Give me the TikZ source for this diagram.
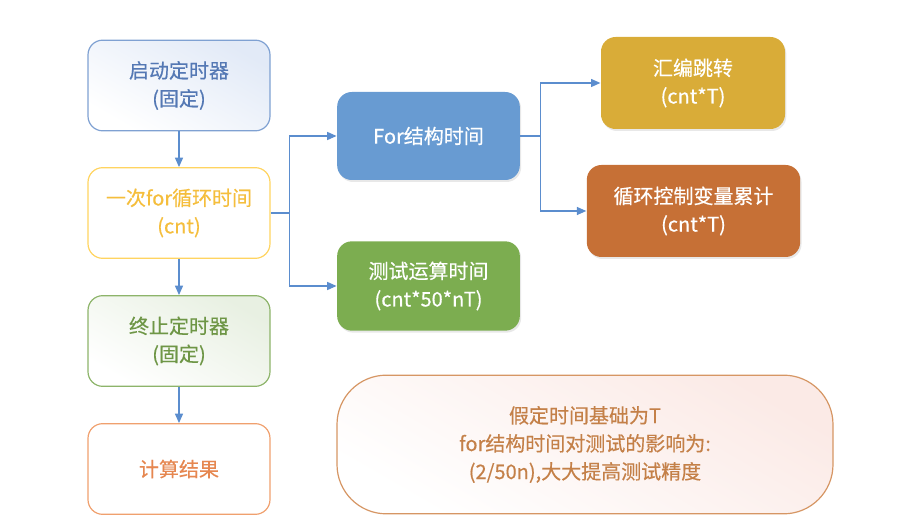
\documentclass[tikz,border=0pt]{standalone}
\usepackage{fontspec}
\setmainfont[FakeBold=0.4]{Noto Sans CJK SC}
\definecolor{flowblue}{RGB}{91, 141, 206}
\definecolor{startline}{RGB}{127, 161, 210}
\definecolor{starttext}{RGB}{84, 120, 180}
\definecolor{startfill}{RGB}{226, 234, 247}
\definecolor{loopline}{RGB}{255, 212, 96}
\definecolor{looptext}{RGB}{245, 190, 60}
\definecolor{stopline}{RGB}{141, 180, 106}
\definecolor{stoptext}{RGB}{110, 150, 70}
\definecolor{stopfill}{RGB}{232, 240, 226}
\definecolor{calcline}{RGB}{240, 160, 110}
\definecolor{calctext}{RGB}{230, 135, 80}
\definecolor{forfill}{RGB}{104, 155, 210}
\definecolor{testfill}{RGB}{124, 173, 80}
\definecolor{asmfill}{RGB}{217, 172, 56}
\definecolor{ctrlfill}{RGB}{198, 112, 54}
\definecolor{noteline}{RGB}{214, 150, 100}
\definecolor{notetext}{RGB}{196, 128, 72}
\definecolor{notefill}{RGB}{251, 234, 230}
\usetikzlibrary{arrows.meta, positioning, shadows}

\begin{document}
\begin{tikzpicture}[x=0.75pt, y=-0.75pt,
    font=\fontsize{15}{21}\selectfont,
    box/.style={rounded corners=11pt, minimum width=136.5pt, minimum height=68pt,
        align=center, line width=0.9pt, inner sep=2pt},
    solidbox/.style={box, draw=none, text=white,
        drop shadow={opacity=0.18, shadow xshift=1pt, shadow yshift=-1.5pt}},
    flowline/.style={flowblue, line width=0.9pt},
    flow/.style={flowline, -{Triangle[length=7pt, width=6pt]}}]
                \useasboundingbox (0,0) rectangle (901,523);

                % Left column
                \node[box, draw=startline, left color=startfill, right color=white,
                    shading angle=-30, text=starttext] (start) at (179,85.5) {启动定时器\\(固定)};
                \node[box, draw=loopline, fill=white, text=looptext]
                    (loop) at (179,213) {一次for循环时间\\(cnt)};
                \node[box, draw=stopline, left color=stopfill, right color=white,
                    shading angle=-30, text=stoptext] (stop) at (179,341) {终止定时器\\(固定)};
                \node[box, draw=calcline, fill=white, text=calctext]
                    (calc) at (179,469) {计算结果};

                % Middle column
                \node[solidbox, fill=forfill, minimum width=137pt, minimum height=66pt]
                    (forbox) at (428.5,136) {For结构时间};
                \node[solidbox, fill=testfill, minimum width=137pt, minimum height=67pt]
                    (test) at (428.5,286) {测试运算时间\\(cnt*50*nT)};

                % Right column
                \node[solidbox, fill=asmfill, minimum width=138pt, minimum height=69pt]
                    (asm) at (693,83) {汇编跳转\\(cnt*T)};
                \node[solidbox, fill=ctrlfill, minimum width=160pt, minimum height=69pt]
                    (ctrl) at (693.5,211) {循环控制变量累计\\(cnt*T)};

                % Note
                \node[box, rounded corners=37pt, draw=noteline, left color=notefill,
                    right color=white, shading angle=-30, text=notetext, minimum width=372pt,
                    minimum height=104pt] (note) at (585,444.5)
                    {假定时间基础为T\\for结构时间对测试的影响为:\\(2/50n),大大提高测试精度};

                % Connectors
                \draw[flow] (start) -- (loop);
                \draw[flow] (loop) -- (stop);
                \draw[flow] (stop) -- (calc);
                \draw[flowline] (loop.east) -- ++(19,0) coordinate (split1);
                \draw[flow] (split1) |- (forbox);
                \draw[flow] (split1) |- (test);
                \draw[flowline] (forbox.east) -- ++(20,0) coordinate (split2);
                \draw[flow] (split2) |- (asm);
                \draw[flow] (split2) |- (ctrl);
            \end{tikzpicture}
\end{document}
